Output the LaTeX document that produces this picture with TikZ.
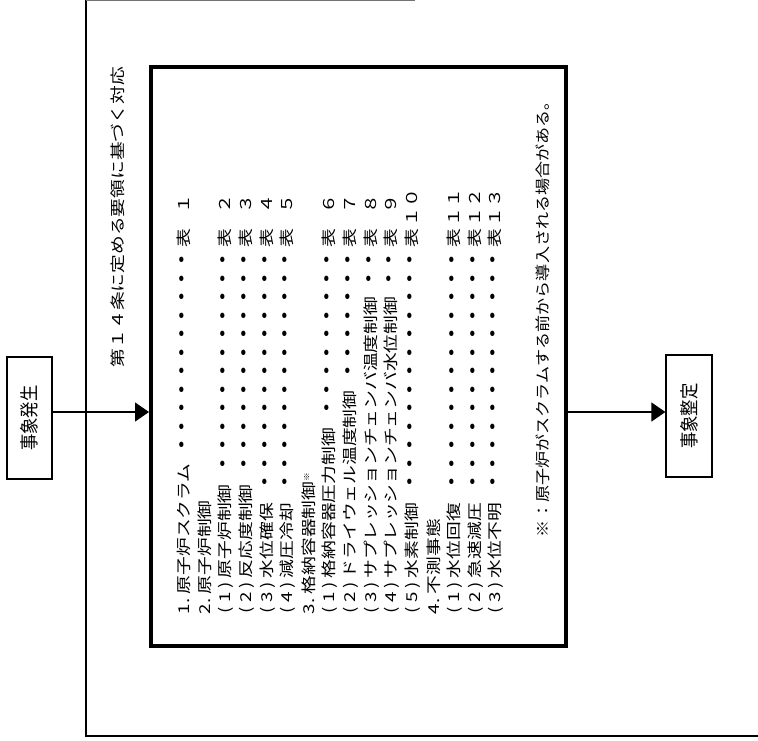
\documentclass[tikz,border=0pt]{standalone}
\usepackage{fontspec}
\usepackage{graphicx}
\setmainfont{Noto Sans CJK JP}
\usetikzlibrary{arrows.meta}
\tikzset{
  item/.style={rotate=90,anchor=west,inner sep=0pt,outer sep=0pt,font=\fontsize{15pt}{18pt}\selectfont},
  sbox/.style={draw,line width=1.2pt,rotate=90,minimum width=122pt,minimum height=45pt,inner sep=0pt,font=\fontsize{19pt}{22pt}\selectfont},
  mainbox/.style={draw,line width=4pt,minimum width=415pt,minimum height=579pt,inner sep=0pt},
  arr/.style={-{Triangle[length=14pt,width=19pt]},line width=1.3pt},
  frame/.style={line width=1.2pt},
}
\newcommand\pfxa[1]{\hbox to 16pt{#1\hss}}
\newcommand\pfxb[1]{\hbox to 28.8pt{\kern0.5pt(\hfil#1\hfil)\hss}}
\newcommand\jpdot{\hbox to 14.8pt{\hss\scalebox{1.35}{・}\hss}}
\newcommand\jpentry[5]{%
  \node[item] (#1) at (#2,620.75) {\scalebox{1.25}[1]{\hbox to 340.6pt{\hbox to 297pt{\kern5.4pt#3#4\leaders\jpdot\hfill}\hbox to 18.4pt{\hss 表\hss}\hfill #5}}};}
\newcommand\jphead[4]{%
  \node[item] (#1) at (#2,620.75) {\scalebox{1.25}[1]{\hbox{\kern5.4pt#3#4}}};}
\begin{document}
\begin{tikzpicture}[x=1pt,y=-1pt]
\useasboundingbox (0,0) rectangle (758,740);
% outer frame
\draw[frame] (86,0) -- (86,736) -- (758,736);
\draw[line width=0.8pt,black!55] (86,0.6) -- (415,0.6);
% main box
\node[mainbox] (main) at (358.5,356.5) {};
% title
\node[item] (title) at (118,367) {\scalebox{1.25}[1]{第１４条に定める要領に基づく対応}};
% entries
\jpentry{e1}{184}{\pfxa{1.}}{原子炉スクラム}{１}
\jphead{h2}{204.8}{\pfxa{2.}}{原子炉制御}
\jpentry{e21}{225.6}{\pfxb{1}}{原子炉制御}{２}
\jpentry{e22}{246.4}{\pfxb{2}}{反応度制御}{３}
\jpentry{e23}{267.2}{\pfxb{3}}{水位確保}{４}
\jpentry{e24}{288}{\pfxb{4}}{減圧冷却}{５}
\jphead{h3}{308.8}{\pfxa{3.}}{格納容器制御\raisebox{5pt}{\fontsize{7pt}{8pt}\selectfont ※}}
\jpentry{e31}{329.6}{\pfxb{1}}{格納容器圧力制御}{６}
\jpentry{e32}{350.4}{\pfxb{2}}{ドライウェル温度制御}{７}
\jpentry{e33}{371.2}{\pfxb{3}}{サプレッションチェンバ温度制御}{８}
\jpentry{e34}{392}{\pfxb{4}}{サプレッションチェンバ水位制御}{９}
\jpentry{e35}{412.8}{\pfxb{5}}{水素制御}{１０}
\jphead{h4}{433.6}{\pfxa{4.}}{不測事態}
\jpentry{e41}{454.4}{\pfxb{1}}{水位回復}{１１}
\jpentry{e42}{475.2}{\pfxb{2}}{急速減圧}{１２}
\jpentry{e43}{496}{\pfxb{3}}{水位不明}{１３}
% note
\node[item] (note) at (543,537) {\scalebox{1.14}[1]{※：原子炉がスクラムする前から導入される場合がある。}};
% side boxes
\node[sbox] (b1) at (29.5,418) {\scalebox{0.86}[1]{事象発生}};
\node[sbox,minimum height=46pt] (b2) at (689,416) {\scalebox{0.86}[1]{事象整定}};
% arrows
\draw[arr] ([yshift=6pt]b1.south) -- ([yshift=6pt]b1.south -| main.west);
\draw[arr] ([yshift=4pt]main.east |- b2.north) -- ([yshift=4pt]b2.north);
\end{tikzpicture}
\end{document}
